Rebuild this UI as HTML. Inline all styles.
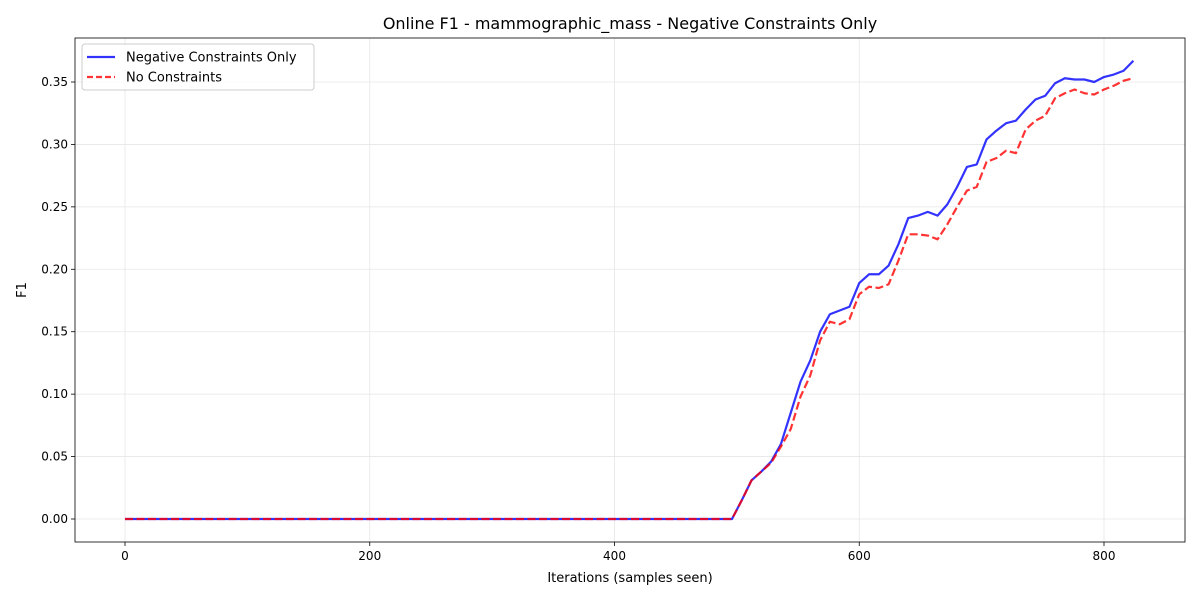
<!DOCTYPE html>
<html><head><meta charset="utf-8"><style>
body{margin:0;background:#fff;font-family:"Liberation Sans","DejaVu Sans",sans-serif}
svg text{font-family:"DejaVu Sans","Liberation Sans",sans-serif}
</style></head><body>
<svg id="chart" width="1200" height="600"></svg>
<script>
const xValues = [];
for (let i = 0; i <= 103; i++) xValues.push(i * 8);
const blueTail = [0,0.015,0.031,0.038,0.046,0.06,0.085,0.11,0.127,0.15,0.164,0.167,0.17,0.189,0.196,0.196,0.203,0.22,0.241,0.243,0.246,0.243,0.252,0.266,0.282,0.284,0.304,0.311,0.317,0.319,0.328,0.336,0.339,0.349,0.353,0.352,0.352,0.35,0.354,0.356,0.359,0.367];
const redTail = [0,0.015,0.031,0.038,0.045,0.058,0.072,0.098,0.115,0.143,0.158,0.156,0.16,0.18,0.186,0.185,0.188,0.207,0.228,0.228,0.227,0.224,0.236,0.25,0.263,0.266,0.286,0.289,0.295,0.293,0.312,0.319,0.323,0.337,0.341,0.344,0.341,0.34,0.344,0.347,0.351,0.353];
const zeroHead = [0,0,0,0,0,0,0,0,0,0,0,0,0,0,0,0,0,0,0,0,0,0,0,0,0,0,0,0,0,0,0,0,0,0,0,0,0,0,0,0,0,0,0,0,0,0,0,0,0,0,0,0,0,0,0,0,0,0,0,0,0,0];
const negOnly = zeroHead.concat(blueTail);
const noConstraints = zeroHead.concat(redTail);
const xTicks = [0,200,400,600,800];
const yTicks = [0,0.05,0.10,0.15,0.20,0.25,0.30,0.35];

const L=75,R=1185,T=38,B=542;
const xs=v=>125+v*(1104-125)/800;
const ys=v=>519-v*(519-82)/0.35;
const svg=document.getElementById('chart');
const NS='http://www.w3.org/2000/svg';
function mk(tag,attrs,parent){const e=document.createElementNS(NS,tag);for(const k in attrs)e.setAttribute(k,attrs[k]);(parent||svg).appendChild(e);return e;}

xTicks.forEach(t=>{
  const g=mk('line',{x1:xs(t),x2:xs(t),y1:T,y2:B,stroke:'#e6e6e6','stroke-width':0.8});
  
  
  mk('line',{x1:xs(t),x2:xs(t),y1:B,y2:B+4,stroke:'#000','stroke-width':0.8});
  const tx=mk('text',{x:xs(t),y:B+18,'text-anchor':'middle','font-size':12,fill:'#000'});
  tx.textContent=t;
  
  
});
yTicks.forEach(t=>{
  const g=mk('line',{x1:L,x2:R,y1:ys(t),y2:ys(t),stroke:'#e6e6e6','stroke-width':0.8});
  
  
  mk('line',{x1:L-4,x2:L,y1:ys(t),y2:ys(t),stroke:'#000','stroke-width':0.8});
  const tx=mk('text',{x:L-7,y:ys(t)+4,'text-anchor':'end','font-size':12,fill:'#000'});
  tx.textContent=t.toFixed(2);
  
  
});

function line(vals,color,dash,name){
  const d=vals.map((v,i)=>(i?'L':'M')+xs(xValues[i]).toFixed(2)+','+ys(v).toFixed(2)).join('');
  const p=mk('path',{d:d,fill:'none',stroke:color,'stroke-width':2.2,'stroke-opacity':0.8,'stroke-linejoin':'round'});
  if(dash)p.setAttribute('stroke-dasharray','8,3.5');
  
  
}
line(negOnly,'#0000ff',null,'negative-constraints-line');
line(noConstraints,'#ff0000',true,'no-constraints-line');

const frame=mk('rect',{x:L,y:T,width:R-L,height:B-T,fill:'none',stroke:'#000','stroke-width':0.8});



const title=mk('text',{x:630,y:29,'text-anchor':'middle','font-size':16,fill:'#000'});
title.textContent='Online F1 - mammographic_mass - Negative Constraints Only';


const xl=mk('text',{x:630,y:582,'text-anchor':'middle','font-size':13,fill:'#000'});
xl.textContent='Iterations (samples seen)';


const yl=mk('text',{x:0,y:0,'text-anchor':'middle','font-size':13,fill:'#000',transform:'translate(26,290) rotate(-90)'});
yl.textContent='F1';



const lg=mk('rect',{x:82,y:44,width:232,height:46,rx:3,fill:'#fff','fill-opacity':0.8,stroke:'#ccc','stroke-width':1});


[['Negative Constraints Only','#0000ff',null,57],['No Constraints','#ff0000','8,3.5',77]].forEach(([lab,c,da,y])=>{
  const l=mk('line',{x1:87,x2:115,y1:y,y2:y,stroke:c,'stroke-width':2.2,'stroke-opacity':0.8});
  if(da)l.setAttribute('stroke-dasharray','6,3');
  
  
  const tx=mk('text',{x:126,y:y+4.5,'font-size':13,fill:'#000'});
  tx.textContent=lab;
  
  
});
</script>
</body></html>
